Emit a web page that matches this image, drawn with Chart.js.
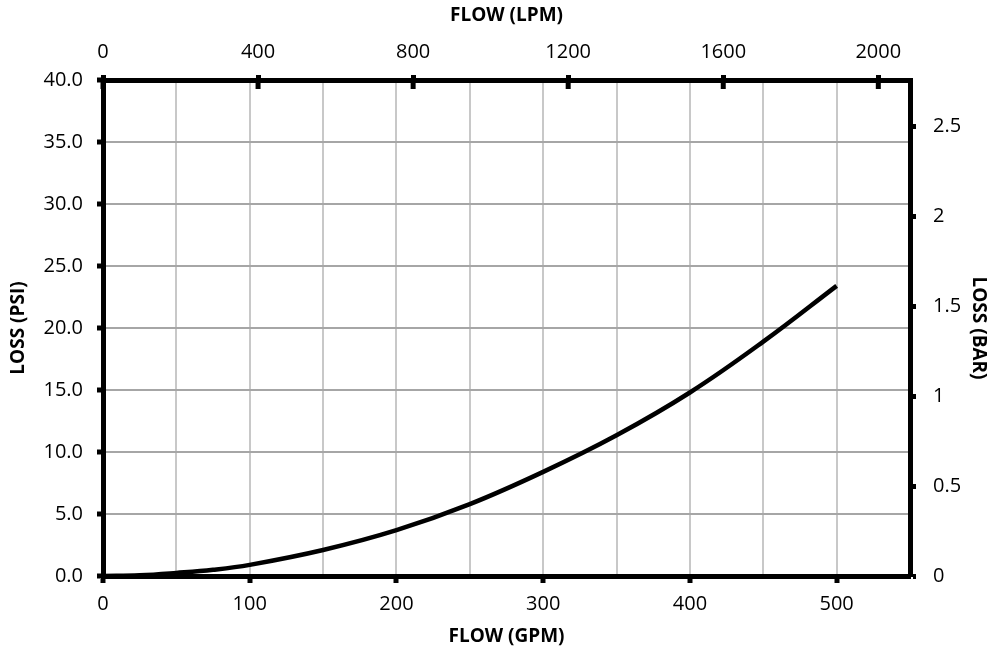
<!DOCTYPE html>
<html>
<head>
<meta charset="utf-8">
<script src="https://cdn.jsdelivr.net/npm/chart.js@4.4.1/dist/chart.umd.min.js"></script>
<style>
  html, body { margin: 0; padding: 0; background: #fff; }
  #wrap { width: 990px; height: 656px; }
</style>
</head>
<body>
<div id="wrap"><canvas id="lossChart"></canvas></div>
<script>
// Pressure loss curve
const gpm = [0, 25, 50, 75, 100, 150, 200, 250, 300, 350, 400, 450, 500];
const psi = [0, 0.06, 0.25, 0.5, 0.9, 2.1, 3.7, 5.8, 8.4, 11.35, 14.8, 18.9, 23.4];

// Axis ticks
const gpmTicks = [0, 100, 200, 300, 400, 500];
const gpmGrid = [0, 50, 100, 150, 200, 250, 300, 350, 400, 450, 500, 550];
const lpmTicks = [0, 400, 800, 1200, 1600, 2000];
const psiTicks = [0, 5, 10, 15, 20, 25, 30, 35, 40];
const barTicks = [0, 0.5, 1, 1.5, 2, 2.5];

const GPM_MAX = 550;
const PSI_MAX = 40;
const LPM_PER_GPM = 3.785;
const BAR_PER_PSI = 0.0689476;

const fontFamily = '"Open Sans", "Noto Sans", sans-serif';
const tickFont = { family: fontFamily, size: 20 };
const titleFont = { family: fontFamily, size: 19, weight: 'bold' };

// Top axis tick marks cross the axis line, draw the inner half here
const crossTicks = {
    id: 'crossTicks',
    afterDraw(chart) {
        const ctx = chart.ctx;
        const top = chart.scales.x2;
        const y0 = chart.chartArea.top;
        ctx.save();
        ctx.strokeStyle = '#000';
        ctx.lineWidth = 5;
        lpmTicks.forEach(v => {
            const x = top.getPixelForValue(v);
            ctx.beginPath();
            ctx.moveTo(x, y0);
            ctx.lineTo(x, y0 + 9);
            ctx.stroke();
        });
        ctx.restore();
    }
};

const points = gpm.map((g, i) => ({ x: g, y: psi[i] }));

new Chart(document.getElementById('lossChart'), {
    type: 'scatter',
    data: {
        datasets: [{
            data: points,
            showLine: true,
            borderColor: '#000',
            borderWidth: 4.5,
            pointRadius: 0,
            tension: 0.4,
            fill: false
        }]
    },
    options: {
        responsive: true,
        maintainAspectRatio: false,
        animation: false,
        layout: { padding: 0 },
        plugins: {
            legend: { display: false },
            tooltip: { enabled: false }
        },
        scales: {
            x: {
                type: 'linear',
                position: 'bottom',
                min: 0,
                max: GPM_MAX,
                afterBuildTicks: s => { s.ticks = gpmGrid.map(v => ({ value: v })); },
                afterFit: s => { s.height = 80; },
                border: { display: true, color: '#000', width: 5 },
                grid: {
                    color: '#c8c8c8',
                    lineWidth: 2,
                    drawTicks: true,
                    tickLength: 7,
                    tickWidth: 5,
                    tickColor: c => gpmTicks.includes(c.tick.value) ? '#000' : 'rgba(0,0,0,0)'
                },
                ticks: {
                    color: '#000',
                    font: tickFont,
                    padding: 9,
                    maxRotation: 0,
                    callback: v => gpmTicks.includes(v) ? String(v) : ''
                },
                title: { display: true, text: 'FLOW (GPM)', color: '#000', font: titleFont, padding: { top: 0, bottom: 8 } }
            },
            x2: {
                type: 'linear',
                position: 'top',
                min: 0,
                max: GPM_MAX * LPM_PER_GPM,
                afterBuildTicks: s => { s.ticks = lpmTicks.map(v => ({ value: v })); },
                afterFit: s => { s.height = 80; },
                border: { display: true, color: '#000', width: 5 },
                grid: { drawOnChartArea: false, drawTicks: true, tickLength: 5, tickWidth: 5, tickColor: '#000' },
                ticks: { color: '#000', font: tickFont, padding: 11, maxRotation: 0, callback: v => String(v) },
                title: { display: true, text: 'FLOW (LPM)', color: '#000', font: titleFont, padding: { top: 4, bottom: 0 } }
            },
            y: {
                type: 'linear',
                position: 'left',
                min: 0,
                max: PSI_MAX,
                afterBuildTicks: s => { s.ticks = psiTicks.map(v => ({ value: v })); },
                afterFit: s => { s.width = 103; },
                border: { display: true, color: '#000', width: 5 },
                grid: { color: '#a6a6a6', lineWidth: 2, drawTicks: true, tickLength: 6, tickWidth: 5, tickColor: '#000' },
                ticks: { color: '#000', font: tickFont, padding: 14, callback: v => v.toFixed(1) },
                title: { display: true, text: 'LOSS (PSI)', color: '#000', font: titleFont, padding: { top: 7, bottom: 0 } }
            },
            y2: {
                type: 'linear',
                position: 'right',
                min: 0,
                max: PSI_MAX * BAR_PER_PSI,
                afterBuildTicks: s => { s.ticks = barTicks.map(v => ({ value: v })); },
                afterFit: s => { s.width = 80; },
                border: { display: true, color: '#000', width: 5 },
                grid: { drawOnChartArea: false, drawTicks: true, tickLength: 6, tickWidth: 5, tickColor: '#000' },
                ticks: { color: '#000', font: tickFont, padding: 17, callback: v => String(v) },
                title: { display: true, text: 'LOSS (BAR)', color: '#000', font: titleFont, padding: { top: 0, bottom: 0 } }
            }
        }
    },
    plugins: [crossTicks]
});
</script>
</body>
</html>
